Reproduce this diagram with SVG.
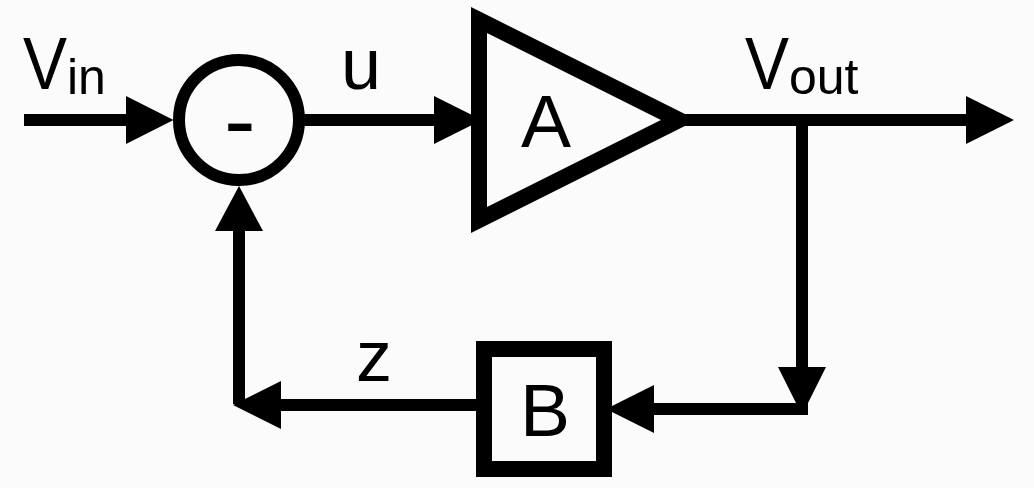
<svg xmlns="http://www.w3.org/2000/svg" width="1034" height="488" viewBox="0 0 1034 488">
<style>
text{font-family:"Liberation Sans",Arial,sans-serif;font-size:75px;fill:#000}
.sub{font-size:50px}
.sm{font-size:72px}
.ln{fill:none;stroke:#000;stroke-width:12}
.head{fill:#000;stroke:none}
</style>
<rect width="1034" height="488" fill="#fbfbfb"/>
<g id="connectors">
<path class="ln" d="M24 120H130"/>
<path class="head" d="M126 96L173.500 120L126 144Z"/>
<path class="ln" d="M304 120H440"/>
<path class="head" d="M434 96L482 120L434 144Z"/>
<path class="ln" d="M680 120H970"/>
<path class="head" d="M966 96L1014 120L966 144Z"/>
<path class="ln" d="M802 120V409M808 409H650"/>
<path class="head" d="M778 367H826L802 415Z"/>
<path class="head" d="M654 385V433L606 409Z"/>
<path class="ln" d="M476 405H275M239 404V225"/>
<path class="head" d="M281 381V429L233 405Z"/>
<path class="head" d="M215 231H263L239 186Z"/>
</g>
<g id="sum"><circle cx="239" cy="120" r="60" fill="none" stroke="#000" stroke-width="12"/><text x="224" y="152" style="font-size:95px">-</text></g>
<g id="amp-a"><path d="M479 20L679 120L479 220Z" fill="none" stroke="#000" stroke-width="16"/><text x="521" y="147">A</text></g>
<g id="block-b"><rect x="484" y="349" width="120" height="120" fill="none" stroke="#000" stroke-width="16"/><text x="520" y="436">B</text></g>
<g id="label-vin"><text x="23" y="89" textLength="44" lengthAdjust="spacingAndGlyphs">V</text><text class="sub" x="67" y="94">in</text></g>
<g id="label-u"><text class="sm" x="341" y="89">u</text></g>
<g id="label-vout"><text x="745" y="89" textLength="44" lengthAdjust="spacingAndGlyphs">V</text><text class="sub" x="789" y="94">out</text></g>
<g id="label-z"><text class="sm" x="356" y="381">z</text></g>
</svg>
